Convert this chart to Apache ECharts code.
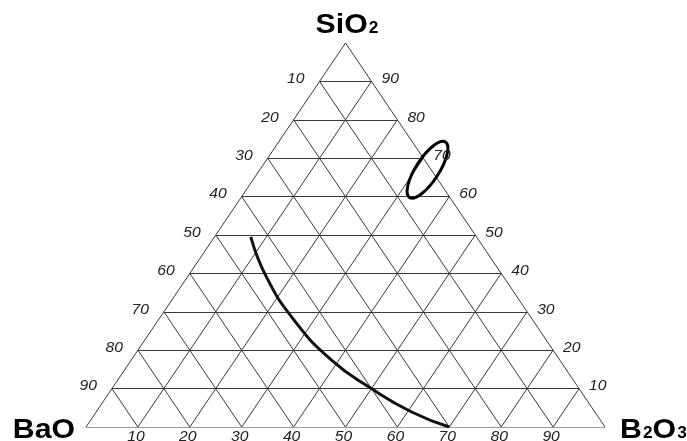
<!DOCTYPE html>
<html>
<head>
<meta charset="utf-8">
<script src="https://cdn.jsdelivr.net/npm/echarts@6/dist/echarts.min.js"></script>
<style>
  html, body { margin: 0; padding: 0; background: #fff; }
  #chart { width: 687px; height: 441px; }
</style>
</head>
<body>
<div id="chart"></div>
<script>
// Composition levels (mol %) for the ternary grid
const gridLevels = [10, 20, 30, 40, 50, 60, 70, 80, 90];

// Tick labels along each edge
const leftTickLabels = ['10', '20', '30', '40', '50', '60', '70', '80', '90'];   // BaO, apex -> BaO corner
const rightTickLabels = ['90', '80', '70', '60', '50', '40', '30', '20', '10'];  // SiO2, apex -> B2O3 corner
const bottomTickLabels = ['10', '20', '30', '40', '50', '60', '70', '80', '90']; // B2O3, BaO corner -> B2O3 corner

// Boundary curve (SiO2 and B2O3 in mol %, BaO is the remainder)
const curveSiO2 = [49.5, 39.1, 27.9, 17.4, 10, 3.9, 0];
const curveB2O3 = [7, 15.2, 26.1, 38.6, 50, 60.8, 70];

// Marked composition region on the SiO2-B2O3 edge
const regionSiO2 = [67];
const regionB2O3 = [32.3];

// ternary (BaO, SiO2, B2O3) -> cartesian plot units
function toXY(bao, sio2, b2o3) {
  return [b2o3 + sio2 / 2, sio2];
}

// Grid segments: lines of constant SiO2, BaO and B2O3
const gridSegments = [];
gridLevels.forEach(function (k) {
  gridSegments.push([toXY(100 - k, k, 0), toXY(0, k, 100 - k)]);
  gridSegments.push([toXY(k, 100 - k, 0), toXY(k, 0, 100 - k)]);
  gridSegments.push([toXY(0, 100 - k, k), toXY(100 - k, 0, k)]);
});
const outline = [
  [toXY(100, 0, 0), toXY(0, 100, 0)],
  [toXY(0, 100, 0), toXY(0, 0, 100)],
  [toXY(0, 0, 100), toXY(100, 0, 0)]
];

// Tick label anchors
const tickItems = [];
gridLevels.forEach(function (k, i) {
  tickItems.push({ pos: toXY(k, 100 - k, 0), text: leftTickLabels[i], side: 'left' });
  tickItems.push({ pos: toXY(0, 100 - k, k), text: rightTickLabels[i], side: 'right' });
  tickItems.push({ pos: toXY(100 - k, 0, k), text: bottomTickLabels[i], side: 'bottom' });
});
const tickPlacement = {
  left:   { dx: -15, dy: -2, align: 'right' },
  right:  { dx: 10,  dy: -2, align: 'left' },
  bottom: { dx: -2,  dy: 10, align: 'center' }
};

// Corner titles
const cornerItems = [
  { pos: toXY(0, 100, 0), text: '{m|SiO}{s|2}', dx: 1.5, dy: -18, align: 'center' },
  { pos: toXY(100, 0, 0), text: '{m|BaO}', dx: -11, dy: 3, align: 'right' },
  { pos: toXY(0, 0, 100), text: '{m|B}{s|2}{m|O}{s|3}', dx: 15, dy: 3, align: 'left' }
];

const curveData = curveSiO2.map(function (s, i) {
  return toXY(100 - s - curveB2O3[i], s, curveB2O3[i]);
});
const regionData = regionSiO2.map(function (s, i) {
  return toXY(100 - s - regionB2O3[i], s, regionB2O3[i]);
});

const FONT = '"Liberation Sans", Arial, sans-serif';
const chart = echarts.init(document.getElementById('chart'), null, { renderer: 'canvas' });

chart.setOption({
  animation: false,
  backgroundColor: '#fff',
  grid: { left: 86, right: 82, top: 43, bottom: 14 },
  xAxis: { type: 'value', min: 0, max: 100, show: false },
  yAxis: { type: 'value', min: 0, max: 100, show: false },
  series: [
    {
      type: 'lines',
      coordinateSystem: 'cartesian2d',
      silent: true,
      data: gridSegments.concat(outline).map(function (c) { return { coords: c }; }),
      lineStyle: { color: '#3a3a3a', width: 1, opacity: 1, curveness: 0 },
      z: 1
    },
    {
      type: 'line',
      data: curveData,
      smooth: 0.5,
      showSymbol: false,
      silent: true,
      lineStyle: { color: '#111', width: 3 },
      z: 3
    },
    {
      type: 'custom',
      coordinateSystem: 'cartesian2d',
      data: regionData,
      silent: true,
      clip: false,
      z: 4,
      renderItem: function (params, api) {
        const p = api.coord([api.value(0), api.value(1)]);
        return {
          type: 'ellipse',
          x: p[0],
          y: p[1],
          rotation: 57 * Math.PI / 180,
          shape: { cx: 0, cy: 0, rx: 33, ry: 11.5 },
          style: { fill: 'none', stroke: '#000', lineWidth: 3 }
        };
      }
    },
    {
      type: 'custom',
      coordinateSystem: 'cartesian2d',
      data: tickItems.map(function (t) { return t.pos; }),
      silent: true,
      clip: false,
      z: 5,
      renderItem: function (params, api) {
        const p = api.coord([api.value(0), api.value(1)]);
        const it = tickItems[params.dataIndex];
        const pl = tickPlacement[it.side];
        return {
          type: 'text',
          x: p[0] + pl.dx,
          y: p[1] + pl.dy,
          scaleX: 1.12,
          style: {
            text: it.text,
            fontSize: 14,
            fontStyle: 'italic',
            fontFamily: FONT,
            fill: '#222',
            align: pl.align,
            verticalAlign: 'middle'
          }
        };
      }
    },
    {
      type: 'custom',
      coordinateSystem: 'cartesian2d',
      data: cornerItems.map(function (t) { return t.pos; }),
      silent: true,
      clip: false,
      z: 5,
      renderItem: function (params, api) {
        const p = api.coord([api.value(0), api.value(1)]);
        const it = cornerItems[params.dataIndex];
        return {
          type: 'text',
          x: p[0] + it.dx,
          y: p[1] + it.dy,
          scaleX: 1.08,
          style: {
            text: it.text,
            align: it.align,
            verticalAlign: 'middle',
            rich: {
              m: { fontSize: 28, fontWeight: 'bold', fontFamily: FONT, fill: '#000', verticalAlign: 'bottom' },
              s: { fontSize: 16, fontWeight: 'bold', fontFamily: FONT, fill: '#000', verticalAlign: 'bottom', padding: [0, 0, 2, 1] }
            }
          }
        };
      }
    }
  ]
});
</script>
</body>
</html>
